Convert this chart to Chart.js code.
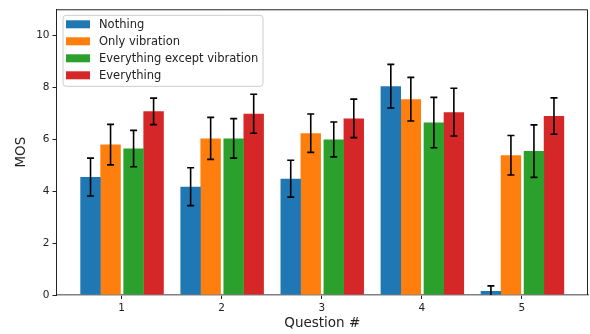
<!DOCTYPE html>
<html>
<head>
<meta charset="utf-8">
<script src="https://cdn.jsdelivr.net/npm/chart.js@4.4.1/dist/chart.umd.min.js"></script>
<style>
  html, body { margin: 0; padding: 0; background: #fff; }
  #wrap { width: 590px; height: 334px; }
</style>
</head>
<body>
<div id="wrap"><canvas id="mosChart" width="590" height="334"></canvas></div>
<script>
// data
const questions = [1, 2, 3, 4, 5];
const seriesNames = ["Nothing", "Only vibration", "Everything except vibration", "Everything"];
const nothingMos = [4.54, 4.17, 4.48, 8.04, 0.15];
const nothingErr = [0.73, 0.73, 0.71, 0.84, 0.20];
const onlyVibMos = [5.79, 6.03, 6.23, 7.54, 5.38];
const onlyVibErr = [0.78, 0.81, 0.74, 0.84, 0.76];
const exceptVibMos = [5.64, 6.03, 5.99, 6.64, 5.54];
const exceptVibErr = [0.70, 0.76, 0.67, 0.97, 1.01];
const everythingMos = [7.07, 6.98, 6.80, 7.04, 6.89];
const everythingErr = [0.51, 0.75, 0.74, 0.92, 0.70];
const yTicks = [0, 2, 4, 6, 8, 10];

const colors = ["#1f77b4", "#ff7f0e", "#2ca02c", "#d62728"];
const offsets = [-0.31, -0.11, 0.12, 0.32];
const FONT = "'DejaVu Sans', sans-serif";

const allMos = [nothingMos, onlyVibMos, exceptVibMos, everythingMos];
const allErr = [nothingErr, onlyVibErr, exceptVibErr, everythingErr];

const datasets = seriesNames.map((name, k) => ({
    label: name,
    data: questions.map((q, i) => ({ x: q + offsets[k], y: allMos[k][i], err: allErr[k][i] })),
    backgroundColor: colors[k],
    borderWidth: 0,
    inflateAmount: 0,
    barThickness: 20.4,
    grouped: false
}));

// error bars, clipped to the plot area
const errorBars = {
    id: "errorBars",
    afterDatasetsDraw(chart) {
        const ctx = chart.ctx, ca = chart.chartArea, y = chart.scales.y;
        ctx.save();
        ctx.beginPath();
        ctx.rect(ca.left, ca.top, ca.right - ca.left, ca.bottom - ca.top);
        ctx.clip();
        ctx.strokeStyle = "#000";
        ctx.lineWidth = 1.6;
        chart.data.datasets.forEach((ds, k) => {
            chart.getDatasetMeta(k).data.forEach((bar, i) => {
                const p = ds.data[i];
                const top = y.getPixelForValue(p.y + p.err);
                const bot = y.getPixelForValue(p.y - p.err);
                ctx.beginPath();
                ctx.moveTo(bar.x, top); ctx.lineTo(bar.x, bot);
                ctx.moveTo(bar.x - 3.5, top); ctx.lineTo(bar.x + 3.5, top);
                ctx.moveTo(bar.x - 3.5, bot); ctx.lineTo(bar.x + 3.5, bot);
                ctx.stroke();
            });
        });
        ctx.restore();
    }
};

// top/right spines and the legend box inside the axes
const frameAndLegend = {
    id: "frameAndLegend",
    afterDraw(chart) {
        const ctx = chart.ctx, ca = chart.chartArea;
        ctx.save();
        ctx.strokeStyle = "#222";
        ctx.lineWidth = 1;
        ctx.beginPath();
        ctx.moveTo(ca.left, ca.top + 0.5); ctx.lineTo(ca.right - 0.5, ca.top + 0.5);
        ctx.lineTo(ca.right - 0.5, ca.bottom);
        ctx.stroke();

        const bx = ca.left + 6.5, by = ca.top + 6, bw = 200, bh = 71, r = 3;
        ctx.fillStyle = "rgba(255,255,255,0.8)";
        ctx.strokeStyle = "#cccccc";
        ctx.beginPath();
        ctx.roundRect(bx, by, bw, bh, r);
        ctx.fill();
        ctx.stroke();

        ctx.font = "11.5px " + FONT;
        ctx.textBaseline = "middle";
        chart.data.datasets.forEach((ds, k) => {
            const cy = by + 9 + k * 17;
            ctx.fillStyle = ds.backgroundColor;
            ctx.fillRect(bx + 3, cy - 4, 24, 8);
            ctx.fillStyle = "#222";
            ctx.fillText(ds.label, bx + 36, cy + 0.5);
        });
        ctx.restore();
    }
};

new Chart(document.getElementById("mosChart"), {
    type: "bar",
    data: { datasets },
    options: {
        responsive: false,
        animation: false,
        events: [],
        layout: { padding: { top: 7, right: 2, left: 0, bottom: 0 } },
        plugins: { legend: { display: false }, tooltip: { enabled: false } },
        scales: {
            x: {
                type: "linear",
                offset: false,
                min: 0.35,
                max: 5.66,
                afterBuildTicks: s => { s.ticks = questions.map(v => ({ value: v })); },
                afterFit: s => { s.height = 39; },
                ticks: { color: "#222", font: { family: FONT, size: 10.5 }, padding: 3 },
                grid: { offset: false, drawOnChartArea: false, tickLength: 4, color: "#222" },
                border: { display: true, color: "#808080", width: 1.5 },
                title: { display: true, text: "Question #", color: "#222", font: { family: FONT, size: 13.5 }, padding: { top: 0, bottom: 2 } }
            },
            y: {
                min: 0,
                max: 11,
                afterBuildTicks: s => { s.ticks = yTicks.map(v => ({ value: v })); },
                afterFit: s => { s.width = 56.5; },
                ticks: { color: "#222", font: { family: FONT, size: 10.5 }, padding: 3 },
                grid: { drawOnChartArea: false, tickLength: 4, color: "#222" },
                border: { display: true, color: "#222", width: 1 },
                title: { display: true, text: "MOS", color: "#222", font: { family: FONT, size: 13.5 }, padding: { top: 13, bottom: 4 } }
            }
        }
    },
    plugins: [errorBars, frameAndLegend]
});
</script>
</body>
</html>
